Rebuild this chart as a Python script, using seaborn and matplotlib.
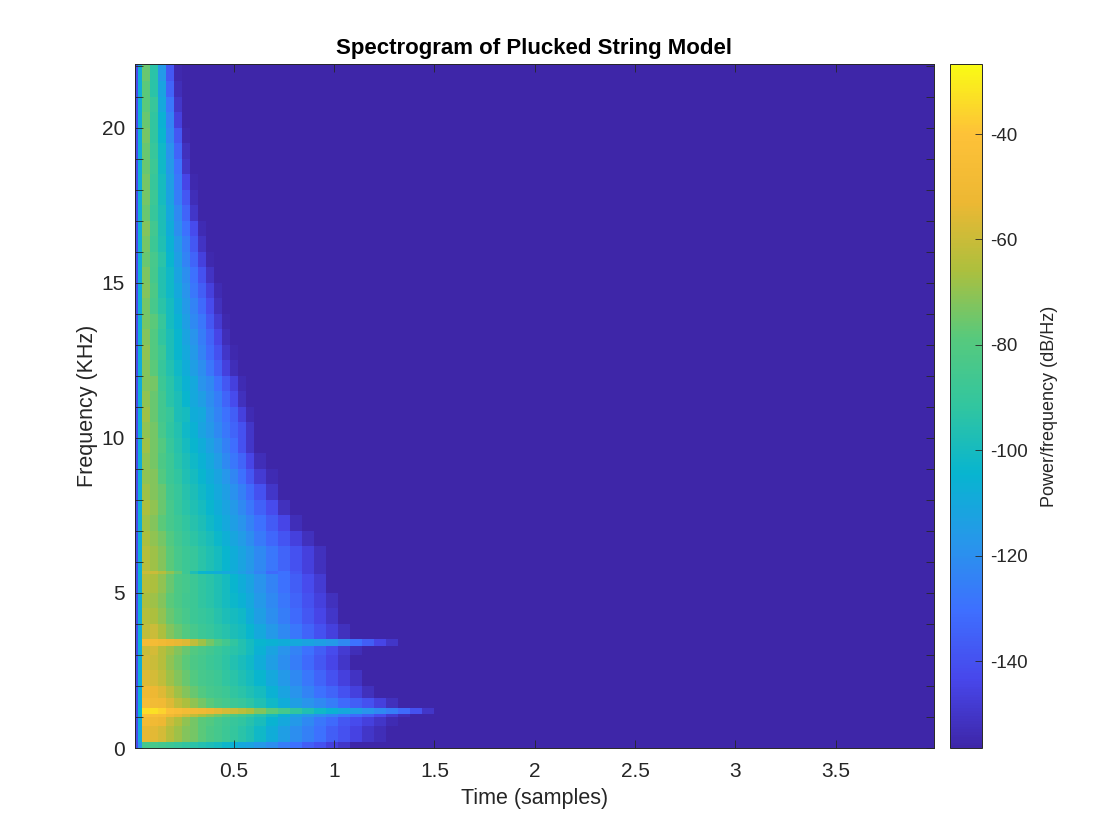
import numpy as np
import matplotlib
matplotlib.use("Agg")
import matplotlib.pyplot as plt
from matplotlib.colors import LinearSegmentedColormap
import seaborn as sns

TITLE = "Spectrogram of Plucked String Model"
XLABEL = "Time (samples)"
YLABEL = "Frequency (KHz)"
CLABEL = "Power/frequency (dB/Hz)"
x_ticks = [0.5, 1, 1.5, 2, 2.5, 3, 3.5]
y_ticks = [0, 5, 10, 15, 20]
c_ticks = [-140, -120, -100, -80, -60, -40]
c_min, c_max = -156.5, -26.7
floor_db = -156.0

# widths of the time bins (units of 0.02 s)
time_spans = [1, 1, 2, 2, 2, 2, 2, 2, 2, 2, 2, 2, 2, 2, 2, 2, 3, 3, 3, 3, 3, 3, 3, 3, 3, 3, 3, 3, 3, 3, 3]
# heights of the frequency bands (units of 0.1 kHz), bottom to top
freq_spans = [2, 5, 3, 1, 2, 3, 4, 5, 5, 3, 2, 5, 5, 5, 6, 1, 8, 5, 5, 5, 5, 5, 5, 5,
              5, 5, 5, 5, 5, 5, 5, 5, 5, 5, 5, 5, 5, 5, 5, 5, 5, 5, 5, 5, 5, 5, 5, 6]

# dB read per band, bottom to top; cells past the list are at the floor
power_db = [
    [-142,-118,-85,-84,-86,-88,-90,-92,-94,-96,-98,-100,-103,-106,-110,-112,-116,-120,-126,-130,-136,-140,-146,-150],
    [-142,-110,-54,-55,-58,-64,-68,-72,-74,-78,-82,-85,-88,-91,-94,-97,-102,-108,-114,-120,-125,-130,-136,-140,-145,-150,-153],
    [-142,-108,-48,-50,-52,-60,-65,-70,-74,-78,-80,-84,-87,-90,-92,-95,-99,-105,-110,-116,-122,-128,-132,-138,-142,-146,-150,-154],
    [-142,-106,-42,-44,-46,-50,-54,-58,-62,-66,-70,-74,-78,-82,-86,-90,-95,-100,-106,-112,-116,-120,-124,-128,-132,-136,-142,-148,-153],
    [-142,-104,-34,-33,-36,-42,-44,-47,-48,-50,-52,-55,-58,-60,-63,-66,-72,-78,-85,-92,-97,-102,-106,-110,-114,-118,-122,-126,-132,-140,-150],
    [-142,-108,-46,-49,-50,-56,-62,-66,-70,-74,-78,-82,-85,-88,-90,-93,-97,-102,-108,-114,-118,-122,-126,-132,-136,-140,-146,-152],
    [-142,-108,-50,-52,-56,-62,-68,-72,-76,-80,-84,-86,-88,-92,-94,-97,-100,-106,-112,-118,-124,-130,-134,-140,-146,-152],
    [-142,-108,-56,-58,-62,-68,-72,-76,-80,-84,-86,-88,-92,-94,-97,-100,-104,-110,-116,-122,-128,-134,-140,-146,-151],
    [-142,-108,-58,-60,-64,-70,-74,-78,-82,-85,-88,-90,-93,-96,-99,-102,-108,-114,-120,-126,-132,-138,-144,-150],
    [-142,-108,-60,-58,-64,-68,-72,-76,-80,-83,-86,-89,-92,-94,-96,-100,-106,-112,-118,-124,-130,-136,-142,-148,-153],
    [-142,-106,-48,-47,-50,-52,-54,-56,-62,-68,-74,-80,-86,-92,-96,-100,-104,-106,-108,-110,-112,-114,-116,-122,-130,-136,-144,-150],
    [-142,-108,-62,-60,-66,-72,-76,-80,-84,-88,-90,-93,-95,-98,-100,-104,-110,-116,-122,-128,-134,-140,-146,-152],
    [-142,-108,-64,-66,-70,-76,-80,-84,-88,-90,-92,-95,-98,-100,-102,-108,-114,-120,-126,-132,-138,-144,-150],
    [-142,-108,-66,-68,-72,-78,-82,-86,-88,-92,-94,-97,-100,-103,-106,-110,-116,-122,-128,-134,-140,-146,-152],
    [-142,-108,-64,-66,-70,-76,-82,-85,-88,-92,-94,-97,-100,-104,-108,-112,-118,-124,-130,-136,-142,-148],
    [-142,-106,-60,-60,-64,-70,-76,-88,-98,-104,-106,-108,-110,-110,-114,-118,-124,-132,-130,-138,-146,-152],
    [-142,-108,-64,-68,-72,-78,-84,-88,-90,-94,-97,-100,-104,-108,-112,-116,-122,-128,-134,-140,-146,-152],
    [-142,-108,-66,-70,-74,-80,-86,-90,-93,-96,-99,-103,-107,-111,-115,-120,-127,-133,-139,-146,-152],
    [-142,-108,-68,-72,-78,-84,-88,-92,-95,-98,-102,-106,-110,-114,-118,-124,-130,-137,-144,-153],
    [-142,-108,-66,-70,-76,-84,-90,-94,-97,-100,-104,-108,-112,-116,-122,-128,-135,-142,-152],
    [-142,-108,-68,-72,-76,-86,-90,-95,-98,-102,-106,-110,-114,-119,-125,-132,-140,-150],
    [-142,-108,-70,-72,-80,-88,-92,-97,-100,-104,-108,-112,-117,-123,-130,-138,-148,-154],
    [-142,-108,-70,-74,-82,-88,-94,-98,-102,-106,-110,-115,-122,-128,-134,-144,-153],
    [-142,-108,-68,-74,-80,-90,-95,-100,-104,-108,-113,-118,-125,-131,-140,-150],
    [-142,-108,-70,-74,-84,-92,-96,-102,-106,-112,-116,-122,-128,-134,-140,-150],
    [-142,-108,-68,-76,-86,-90,-98,-100,-108,-110,-118,-124,-130,-136,-146,-154],
    [-142,-108,-70,-76,-86,-94,-98,-104,-110,-114,-120,-126,-134,-142,-152],
    [-142,-108,-72,-74,-88,-94,-100,-106,-110,-118,-122,-130,-138,-146,-154],
    [-142,-108,-72,-78,-90,-96,-102,-108,-114,-120,-128,-136,-146,-153],
    [-142,-108,-70,-80,-88,-98,-104,-110,-116,-124,-132,-140,-150,-155],
    [-142,-108,-72,-80,-92,-98,-104,-112,-118,-126,-134,-144,-153],
    [-142,-108,-74,-78,-90,-100,-106,-114,-122,-128,-138,-148,-155],
    [-142,-108,-74,-84,-94,-100,-108,-116,-124,-132,-142,-152],
    [-142,-108,-72,-82,-96,-102,-110,-118,-128,-136,-146,-154],
    [-142,-108,-73,-85,-96,-102,-112,-120,-130,-140,-151],
    [-142,-108,-76,-84,-94,-104,-114,-124,-134,-146,-155],
    [-142,-108,-74,-88,-97,-106,-116,-126,-138,-151],
    [-142,-108,-72,-86,-98,-108,-120,-130,-142,-154],
    [-142,-108,-76,-90,-98,-110,-122,-134,-150],
    [-142,-108,-74,-88,-100,-112,-126,-138,-153],
    [-142,-108,-74,-90,-100,-114,-128,-144,-155],
    [-142,-108,-76,-88,-102,-116,-130,-150],
    [-142,-108,-76,-90,-102,-118,-134,-152],
    [-142,-108,-74,-92,-104,-122,-138,-155],
    [-142,-108,-76,-92,-106,-124,-146],
    [-142,-108,-78,-90,-110,-128,-150],
    [-142,-108,-78,-94,-112,-134,-153],
    [-142,-108,-76,-94,-116,-138,-155],
]

# MATLAB parula colours
parula_colors = [
    (0.2422, 0.1504, 0.6603), (0.2803, 0.2782, 0.9221), (0.2440, 0.4358, 0.9988),
    (0.1540, 0.5902, 0.9218), (0.0297, 0.7082, 0.8163), (0.1938, 0.7758, 0.6251),
    (0.3400, 0.7900, 0.4900), (0.6800, 0.7500, 0.2400), (0.9300, 0.7200, 0.2000),
    (0.9950, 0.7600, 0.2200), (0.9769, 0.9839, 0.0805),
]
parula = LinearSegmentedColormap.from_list("parula", parula_colors, N=256)

sns.set_style("white")
plt.rcParams["font.family"] = ["Liberation Sans", "DejaVu Sans"]
DARK = "#262626"
FS = 15

# expand bands and bins onto the regular grid that the heatmap needs
n_cols = 200
tail = [floor_db] * (n_cols - sum(time_spans))
matrix = []
for row, span in zip(power_db, freq_spans):
    full = row + [floor_db] * (len(time_spans) - len(row))
    matrix.extend([np.repeat(full, time_spans).tolist() + tail] * span)
matrix = np.array(matrix, dtype=float)

fig = plt.figure(figsize=(11.2, 8.4), dpi=100, facecolor="white")
W, H = 1120.0, 840.0
ax = fig.add_axes([134.5 / W, 1 - 748 / H, 799.5 / W, 684 / H])
cax = fig.add_axes([950 / W, 1 - 748 / H, 32 / W, 684 / H])

sns.heatmap(matrix, ax=ax, cbar_ax=cax, cmap=parula, vmin=c_min, vmax=c_max,
            xticklabels=False, yticklabels=False, rasterized=True,
            cbar_kws={"ticks": c_ticks})

TU, FU = 0.02, 0.1  # grid step in seconds and in kHz
ax.set_axisbelow(False)
ax.set_xlim(0.005 / TU, 3.99 / TU)
ax.set_ylim(0, 22.05 / FU)
ax.set_xticks([t / TU for t in x_ticks])
ax.set_xticklabels(["0.5", "1", "1.5", "2", "2.5", "3", "3.5"], fontsize=FS, color=DARK)
ax.set_yticks([f / FU for f in y_ticks])
ax.set_yticklabels([str(f) for f in y_ticks], fontsize=FS, color=DARK, rotation=0)
ax.set_yticks([f / FU for f in range(0, 23) if f % 5], minor=True)
ax.tick_params(axis="both", which="both", direction="in", length=5.5, width=0.6,
               color=DARK, top=True, right=True, bottom=True, left=True)
ax.tick_params(axis="x", which="major", pad=10)
ax.tick_params(axis="y", which="both", pad=7)
ax.set_xlabel(XLABEL, fontsize=15.5, color=DARK, labelpad=5)
ax.set_ylabel(YLABEL, fontsize=15.5, color=DARK, labelpad=2.5)
ax.set_title(TITLE, fontsize=16, fontweight="bold", color="black", pad=7.5)
for s in ax.spines.values():
    s.set_visible(True)
    s.set_linewidth(0.7)
    s.set_color(DARK)

cb = ax.collections[0].colorbar
cb.outline.set_visible(True)
cb.outline.set_linewidth(0.7)
cb.outline.set_edgecolor(DARK)
cax.set_axisbelow(False)
cax.tick_params(axis="y", direction="in", length=5, width=0.6, color=DARK,
                labelsize=13.5, labelcolor=DARK, pad=6, right=True)
cax.set_yticklabels([str(v) for v in c_ticks])
cb.set_label(CLABEL, fontsize=13, color=DARK, labelpad=9)

fig.savefig("out.png", dpi=100, facecolor="white")
